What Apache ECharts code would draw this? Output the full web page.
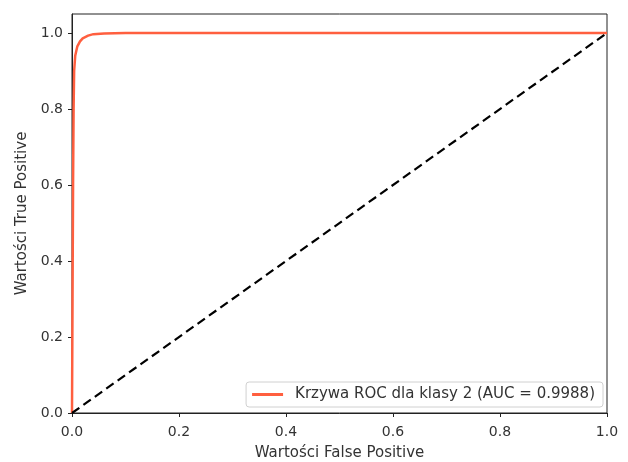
<!doctype html>
<html>
<head>
    <meta charset="utf-8">
    <title>Krzywa ROC</title>
    <style>
        html, body { margin: 0; padding: 0; background: #fff; }
        #roc { width: 628px; height: 462px; }
    </style>
</head>
<body>
    <div id="roc"></div>
</body>
</html>
<script type="text/javascript" src="https://cdn.jsdelivr.net/npm/echarts@6/dist/echarts.min.js"></script>
<script type="text/javascript">
    // dane krzywej ROC
    var rocFpr = [0, 0.001, 0.002, 0.003, 0.004, 0.006, 0.01, 0.015, 0.02, 0.03, 0.04, 0.06, 0.1, 1.0];
    var rocTpr = [0, 0.30, 0.60, 0.80, 0.90, 0.94, 0.965, 0.978, 0.986, 0.993, 0.997, 0.999, 1.0, 1.0];
    var diagX = [0, 1];
    var diagY = [0, 1];
    var tickValues = [0, 0.2, 0.4, 0.6, 0.8, 1.0];
    var rocName = 'Krzywa ROC dla klasy 2 (AUC = 0.9988)';

    function pairs(xs, ys) {
        var out = [];
        for (var i = 0; i < xs.length; i++) out.push([xs[i], ys[i]]);
        return out;
    }

    var font = 'DejaVu Sans';
    var myChart = echarts.init(document.getElementById('roc'));

    var axisCommon = {
        type: 'value',
        nameLocation: 'middle',
        nameTextStyle: { fontFamily: font, fontSize: 15, color: '#333' },
        axisLine: { show: true, lineStyle: { color: '#222', width: 1 } },
        axisTick: { show: true, length: 4, lineStyle: { color: '#222' }, customValues: tickValues },
        axisLabel: {
            fontFamily: font, fontSize: 14, color: '#333',
            customValues: tickValues,
            formatter: function (v) { return v.toFixed(1); }
        },
        splitLine: { show: false }
    };

    var option = {
        animation: false,
        grid: {
            left: 72, right: 21, top: 14, bottom: 49,
            outerBoundsMode: 'none',
            show: true, borderColor: '#222', borderWidth: 1
        },
        legend: {
            data: [rocName],
            right: 25,
            bottom: 55,
            icon: 'rect',
            itemWidth: 31,
            itemHeight: 3,
            padding: [5, 8, 5, 6],
            borderColor: '#d0d0d0',
            borderWidth: 1,
            borderRadius: 3,
            textStyle: { fontFamily: font, fontSize: 15, color: '#333', padding: [0, 0, 0, 7] }
        },
        xAxis: Object.assign({}, axisCommon, {
            min: 0, max: 1,
            name: 'Wartości False Positive',
            nameGap: 33,
            axisLabel: Object.assign({}, axisCommon.axisLabel, { margin: 12 })
        }),
        yAxis: Object.assign({}, axisCommon, {
            min: 0, max: 1.05,
            name: 'Wartości True Positive',
            nameGap: 42,
            axisLabel: Object.assign({}, axisCommon.axisLabel, { margin: 9 })
        }),
        series: [{
            name: rocName,
            type: 'line',
            data: pairs(rocFpr, rocTpr),
            showSymbol: false,
            smooth: false,
            itemStyle: { color: '#ff5f3f' },
            lineStyle: { color: '#ff5f3f', width: 2.5 }
        }, {
            name: 'diag',
            type: 'line',
            data: pairs(diagX, diagY),
            showSymbol: false,
            itemStyle: { color: '#000' },
            lineStyle: { color: '#000', width: 2.2, type: [9, 5] }
        }]
    };

    myChart.setOption(option);
</script>
